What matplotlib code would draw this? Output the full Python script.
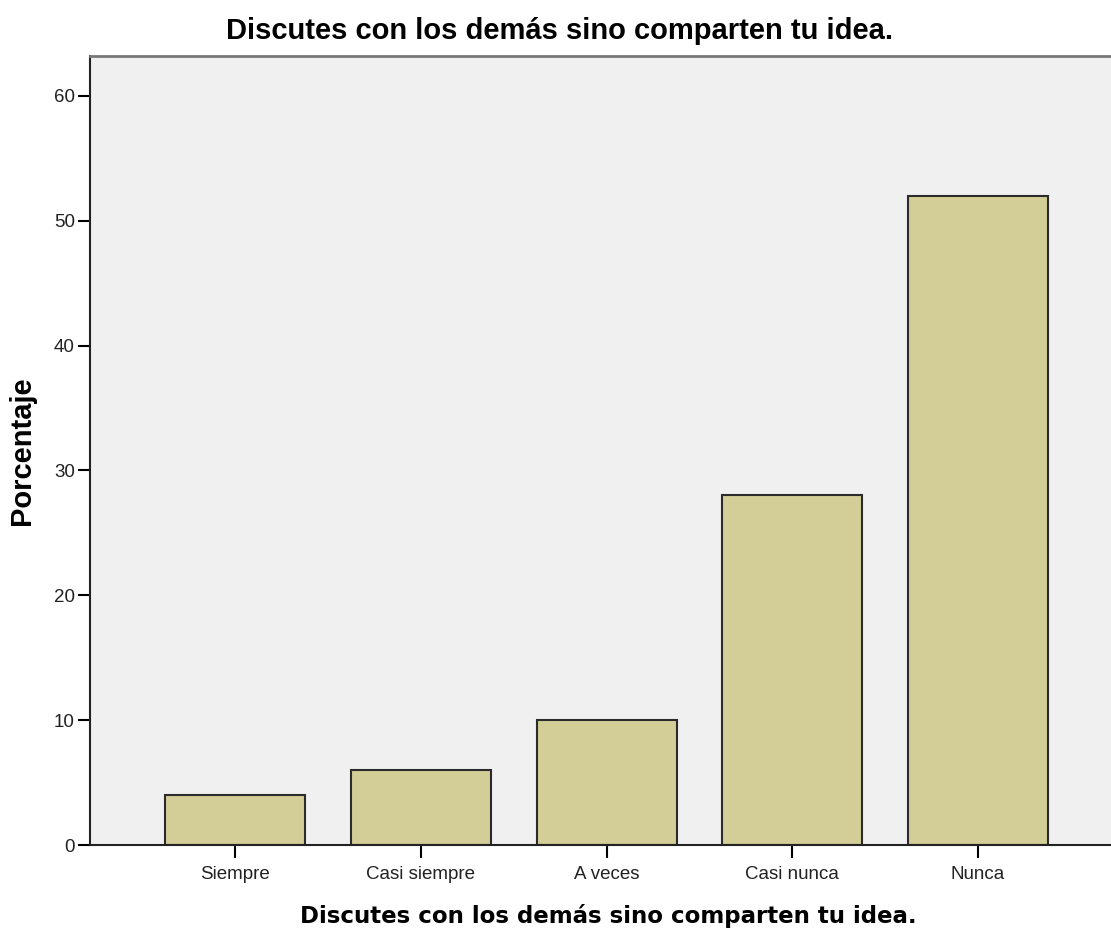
import numpy as np
import matplotlib.pyplot as plt

plt.rcParams['font.family'] = ['Liberation Sans', 'DejaVu Sans']

categories = ['Siempre', 'Casi siempre', 'A veces', 'Casi nunca', 'Nunca']
percent = [4, 6, 10, 28, 52]
yticks = [0, 10, 20, 30, 40, 50, 60]
title = 'Discutes con los demás sino comparten tu idea.'

fig = plt.figure(figsize=(11.11, 9.32), dpi=100)
ax = fig.add_axes([90 / 1111, 87 / 932, 1 - 90 / 1111, (845 - 56) / 932])
ax.set_facecolor('#F0F0F0')

x = np.arange(len(categories))
ax.bar(x, percent, width=0.754, color='#D3CE97', edgecolor='#2b2b2b', linewidth=1.5)

ax.set_xlim(-0.781, 4.716)
ax.set_ylim(0, 63.2)
ax.set_xticks(x)
ax.set_xticklabels(categories, fontsize=13.5, color='#222222')
ax.set_yticks(yticks)
ax.set_yticklabels([str(v) for v in yticks], fontsize=13.5, color='#222222')
ax.tick_params(axis='y', direction='out', length=9, width=1.5, pad=2)
ax.tick_params(axis='x', direction='out', length=9, width=1.5, pad=6)

ax.spines['right'].set_visible(False)
ax.spines['top'].set_color('#777777')
ax.spines['top'].set_linewidth(2)
for s in ['left', 'bottom']:
    ax.spines[s].set_color('#222222')
    ax.spines[s].set_linewidth(1.5)

fig.text(22 / 1111, 1 - 451 / 932, 'Porcentaje', rotation=90, ha='center', va='center',
         fontsize=21, fontweight='bold')
fig.text(608 / 1111, 1 - 916 / 932, title, ha='center', va='center', fontsize=16.5,
         fontweight='bold', family='DejaVu Sans')
fig.text(560 / 1111, 1 - 31 / 932, title, ha='center', va='center', fontsize=21,
         fontweight='bold')

fig.savefig('out.png', dpi=100)
